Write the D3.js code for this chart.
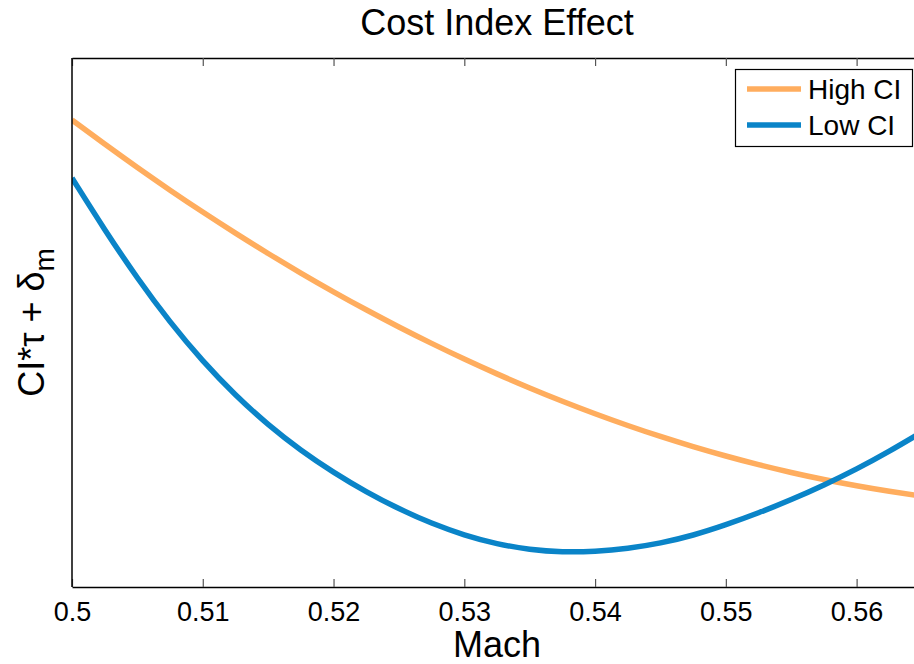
<!DOCTYPE html>
<html>
<head>
<meta charset="utf-8">
<script src="https://cdn.jsdelivr.net/npm/d3@7"></script>
<style>
  html, body { margin: 0; padding: 0; background: #fff; }
  svg { display: block; font-family: "Liberation Sans", Arial, Helvetica, sans-serif; }
</style>
</head>
<body>
<svg id="chart" width="914" height="664"></svg>
<script>
// ---- data (y is in arbitrary relative units) ----
const mach = [0.5, 0.5025, 0.505, 0.5075, 0.51, 0.5125, 0.515, 0.5175, 0.52, 0.5225,
              0.525, 0.5275, 0.53, 0.5325, 0.535, 0.5375, 0.54, 0.5425, 0.545, 0.5475,
              0.55, 0.5525, 0.555, 0.5575, 0.56, 0.5625, 0.565];
const highCI = [88.28, 83.70, 79.27, 74.99, 70.85, 66.86, 63.02, 59.33, 55.78, 52.38,
                49.13, 46.03, 43.07, 40.26, 37.61, 35.09, 32.73, 30.50, 28.43, 26.51,
                24.74, 23.10, 21.63, 20.29, 19.11, 18.06, 17.17];
const lowCI  = [77.32, 67.49, 58.32, 50.00, 42.63, 36.20, 30.62, 25.80, 21.64, 17.96,
                14.74, 12.00, 9.77, 8.11, 7.05, 6.58, 6.71, 7.26, 8.26, 9.75,
                11.74, 13.99, 16.48, 19.24, 22.27, 25.63, 29.30];
const xTicks = [0.5, 0.51, 0.52, 0.53, 0.54, 0.55, 0.56];
const xTickLabels = ["0.5", "0.51", "0.52", "0.53", "0.54", "0.55", "0.56"];
const seriesNames = ["High CI", "Low CI"];
const seriesColors = ["#FFAD5E", "#0A84C8"];

const svg = d3.select("#chart");
const L = 72, T = 58, R = 922, B = 587;

const x = d3.scaleLinear().domain([0.5, 0.565]).range([L, R]);
const y = d3.scaleLinear().domain([0, 100]).range([B, T]);

// clip
svg.append("defs").append("clipPath").attr("id", "clip")
  .append("rect").attr("x", L).attr("y", T).attr("width", R - L).attr("height", B - T);

// lines
const series = [highCI, lowCI];
const line = d3.line()
  .x((d, i) => x(mach[i]))
  .y(d => y(d))
  .curve(d3.curveBasis);

const g = svg.append("g").attr("clip-path", "url(#clip)");
series.forEach((s, k) => {
  g.append("path").datum(s)
    .attr("d", line)
    .attr("fill", "none")
    .attr("stroke", seriesColors[k])
    .attr("stroke-width", 5.5)
    .attr("stroke-linejoin", "round");
});

// axes
const xAxisB = d3.axisBottom(x).tickValues(xTicks).tickFormat((d, i) => xTickLabels[i]).tickSizeInner(-8).tickSizeOuter(0).tickPadding(15);
const gb = svg.append("g").attr("transform", `translate(0,${B})`).call(xAxisB);
gb.select(".domain").attr("stroke", "#000").attr("stroke-width", 1.5);
gb.selectAll(".tick line").attr("stroke", "#555").attr("stroke-width", 1.2);
gb.selectAll(".tick text").attr("font-size", 27).attr("fill", "#000").attr("font-family", "Liberation Sans, Arial, sans-serif");

const xAxisT = d3.axisTop(x).tickValues(xTicks).tickFormat("").tickSizeInner(-8).tickSizeOuter(0);
const gt = svg.append("g").attr("transform", `translate(0,${T})`).call(xAxisT);
gt.select(".domain").attr("stroke", "#000").attr("stroke-width", 1.5);
gt.selectAll(".tick line").attr("stroke", "#555").attr("stroke-width", 1.2);

svg.append("line").attr("x1", L).attr("x2", L).attr("y1", T).attr("y2", B)
  .attr("stroke", "#000").attr("stroke-width", 1.5);

// title
svg.append("text").attr("x", (L + R) / 2).attr("y", 35)
  .attr("text-anchor", "middle").attr("font-size", 36).attr("fill", "#000")
  .text("Cost Index Effect");

// x label
svg.append("text").attr("x", (L + R) / 2).attr("y", 657)
  .attr("text-anchor", "middle").attr("font-size", 36).attr("fill", "#000")
  .text("Mach");

// y label
const yl = svg.append("text")
  .attr("transform", `translate(44,${(T + B) / 2}) rotate(-90)`)
  .attr("text-anchor", "middle").attr("font-size", 36).attr("fill", "#000");
yl.append("tspan").text("CI*τ + δ");
yl.append("tspan").attr("dy", 10).attr("font-size", 28).text("m");

// legend
const lg = svg.append("g");
lg.append("rect").attr("x", 735.5).attr("y", 69.5).attr("width", 177).attr("height", 77)
  .attr("fill", "#fff").attr("stroke", "#000").attr("stroke-width", 1.2);
seriesNames.forEach((n, k) => {
  const yy = 89 + k * 36;
  lg.append("line").attr("x1", 747).attr("x2", 801).attr("y1", yy).attr("y2", yy)
    .attr("stroke", seriesColors[k]).attr("stroke-width", 5.5);
  lg.append("text").attr("x", 808).attr("y", yy + 10).attr("font-size", 28).attr("fill", "#000").text(n);
});
</script>
</body>
</html>
